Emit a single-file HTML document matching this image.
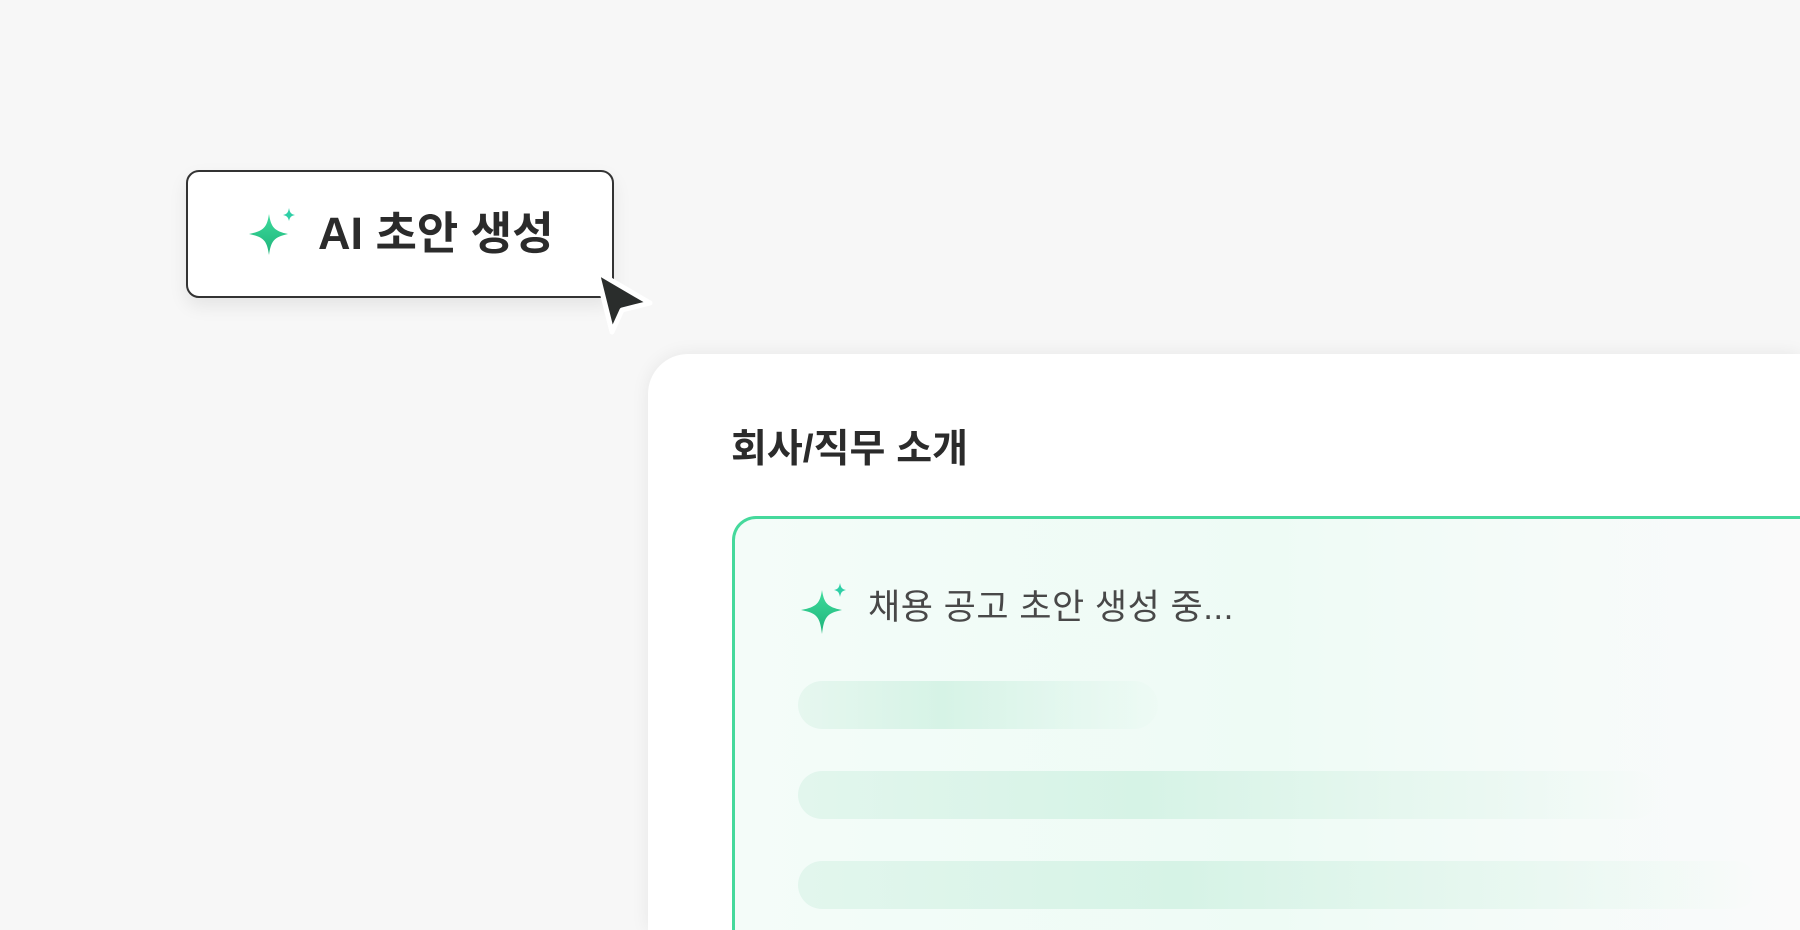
<!DOCTYPE html>
<html style="height:930px;overflow:hidden;"><head><meta charset="utf-8"><style>
html,body{margin:0;padding:0;}
body{width:1800px;height:930px;overflow:hidden;background:#f7f7f7;position:relative;font-family:"Liberation Sans","Noto Sans CJK KR",sans-serif;}
.wrap{position:absolute;left:0;top:0;width:1800px;height:930px;overflow:hidden;}
.btn{position:absolute;left:186px;top:170px;width:424px;height:124px;border:2px solid #333;border-radius:13px;background:#fff;box-shadow:0 8px 18px rgba(0,0,0,0.08);}
.btn span{position:absolute;left:130px;top:34px;font-size:45px;font-weight:700;color:#2b2b2b;white-space:nowrap;line-height:56px;}
.card{position:absolute;left:648px;top:354px;width:1152px;height:576px;background:#fff;border-radius:40px 0 0 0;box-shadow:0 0 18px rgba(0,0,0,0.07);}
.title{position:absolute;left:731px;top:424px;font-size:39px;font-weight:700;color:#2b2b2b;line-height:52px;white-space:nowrap;}
.box{position:absolute;left:732px;top:516px;width:1068px;height:414px;border:3px solid #45d99c;border-right:0;border-bottom:0;border-radius:24px 0 0 0;background:linear-gradient(90deg,#f4fcf9 0%,#eefbf5 50%,#f5fbf9 75%,#fafafa 100%);}
.sub{position:absolute;left:868px;top:584px;font-size:35px;letter-spacing:0.5px;color:#484848;line-height:48px;white-space:nowrap;}
.bar{position:absolute;left:798px;height:48px;border-radius:24px;}
</style></head><body><div class="wrap">
<div class="btn"><span>AI 초안 생성</span></div>
<svg style="position:absolute;left:245px;top:208px" width="52" height="50" viewBox="0 0 52 50">
<defs><linearGradient id="g" x1="0" y1="0" x2="0" y2="1"><stop offset="0" stop-color="#3ddc9c"/><stop offset="1" stop-color="#1fb37a"/></linearGradient></defs>
<path d="M24 6 C26 19 29 23 43 26 C29 29 26 33 24 47 C22 33 19 29 4 26 C19 23 22 19 24 6Z" fill="url(#g)"/>
<path d="M44 0 C45 5 46 6 50 7 C46 8 45 9 44 13 C43 9 42 8 38 7 C42 6 43 5 44 0Z" fill="#2ecfa6"/>
</svg>
<svg style="position:absolute;left:590px;top:265px" width="74" height="78" viewBox="0 0 74 78">
<path d="M7 7 L60 38 L32 45 L22 67 Z" fill="#2a2d2c" stroke="#fff" stroke-width="5" stroke-linejoin="round"/>
</svg>
<div class="card"></div>
<div class="title">회사/직무 소개</div>
<div class="box"></div>
<svg style="position:absolute;left:798px;top:582px" width="54" height="54" viewBox="0 0 54 54">
<path d="M24 8 C26 21 29 25 44 28 C29 31 26 35 24 52 C22 35 19 31 3 28 C19 25 22 21 24 8Z" fill="url(#g)"/>
<path d="M42 1 C43 6 44 7 48 8 C44 9 43 10 42 15 C41 10 40 9 36 8 C40 7 41 6 42 1Z" fill="#2ecfa6"/>
</svg>
<div class="sub">채용 공고 초안 생성 중...</div>
<div class="bar" style="top:681px;width:360px;background:linear-gradient(90deg,#e6f7ef 0%,#d6f3e6 40%,rgba(230,248,240,0.2) 100%);"></div>
<div class="bar" style="top:771px;width:860px;background:linear-gradient(90deg,#e2f6ed 0%,#d6f3e6 40%,#e6f7ef 70%,rgba(240,250,246,0) 100%);"></div>
<div class="bar" style="top:861px;width:960px;background:linear-gradient(90deg,#e2f6ed 0%,#d6f3e6 40%,#e6f7ef 70%,rgba(240,250,246,0) 100%);"></div>
</div></body></html>
